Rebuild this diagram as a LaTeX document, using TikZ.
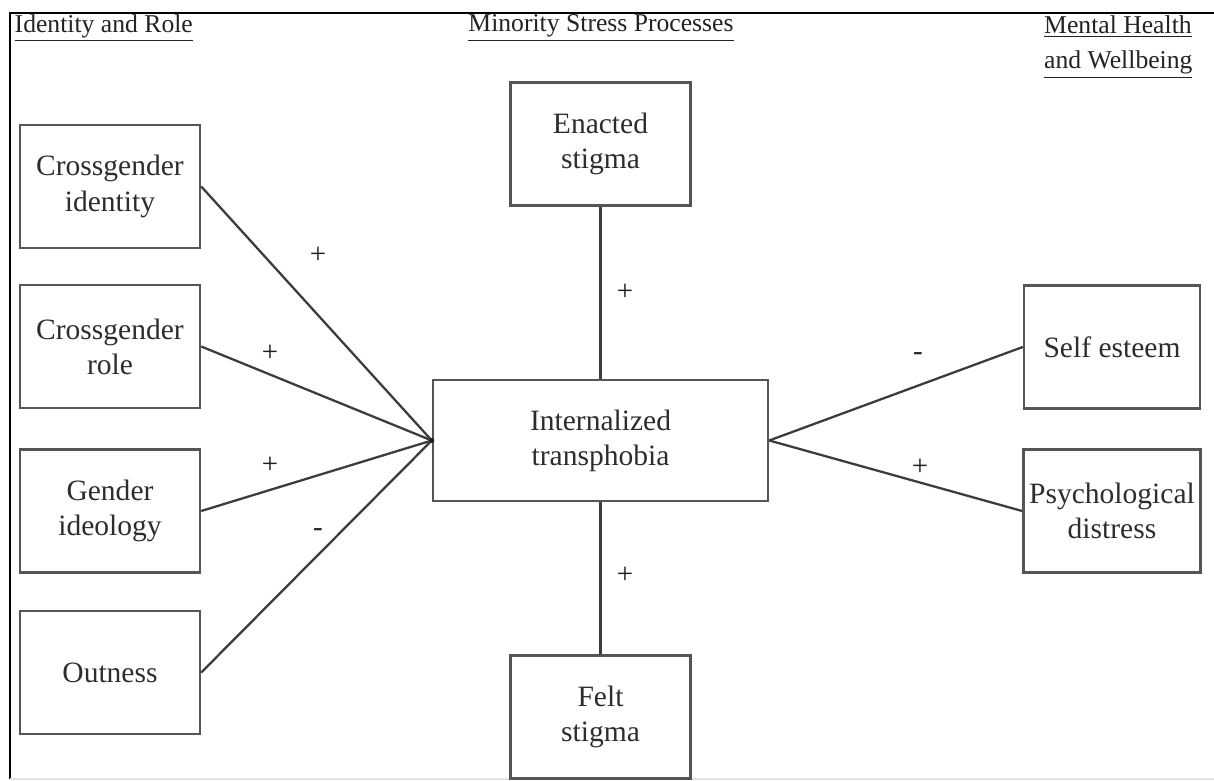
\documentclass[tikz,border=0pt]{standalone}
\usepackage{fontspec}
\setmainfont{Liberation Serif}
\usetikzlibrary{positioning}

\tikzset{
    factor/.style={draw={rgb,255:red,85; green,85; blue,85}, line width=1.4pt, minimum width=3.6cm, minimum height=2.46cm, align=center, text={rgb,255:red,45; green,45; blue,45}, font=\fontsize{16.8}{20}\selectfont},
    path/.style={line width=1.3pt, color={rgb,255:red,60; green,60; blue,60}},
    sign/.style={text={rgb,255:red,30; green,30; blue,30}, font=\fontsize{16.5}{18}\selectfont},
    header/.style={text={rgb,255:red,35; green,35; blue,35}, align=left, font=\fontsize{14.6}{19.9}\selectfont}
}

\begin{document}
\begin{tikzpicture}

        \useasboundingbox (0,0) rectangle (24.28,15.62);

        % Frame
        \draw[line width=1.3pt] (0.2,0.04) -- (0.2,15.36) -- (24.28,15.36);
        \draw[line width=0.6pt, color={rgb,255:red,225; green,225; blue,225}] (0.2,0.04) -- (24.28,0.04);

        % Column headings
        \node[header, anchor=west] (hid) at (0.17,15.06) {\underline{Identity and Role}};
        \node[header] (hms) at (12.02,15.06) {\underline{Minority Stress Processes}};
        \node[header, anchor=north west] (hmh) at (20.76,15.42) {\underline{Mental Health}\\\underline{and Wellbeing}};

        % Identity and role
        \node[factor] (cid) at (2.2,11.89) {Crossgender\\identity};
        \node[factor] (crole) at (2.2,8.69) {Crossgender\\role};
        \node[factor] (gid) at (2.2,5.40) {Gender\\ideology};
        \node[factor] (out) at (2.2,2.17) {Outness};

        % Minority stress
        \node[factor] (enact) at (12.01,12.74) {Enacted\\stigma};
        \node[factor, minimum width=6.7cm, minimum height=2.42cm] (itp) at (12.01,6.81) {Internalized\\transphobia};
        \node[factor] (felt) at (12.01,1.28) {Felt\\stigma};

        % Mental health
        \node[factor, minimum width=3.52cm] (self) at (22.24,8.68) {Self esteem};
        \node[factor, minimum width=3.52cm] (psy) at (22.24,5.40) {Psychological\\distress};

        % Paths
        \draw[path] (cid.east) -- (itp.west);
        \draw[path] (crole.east) -- (itp.west);
        \draw[path] (gid.east) -- (itp.west);
        \draw[path] (out.east) -- (itp.west);
        \fill[color={rgb,255:red,30; green,30; blue,30}] (itp.west) circle (0.05);
        \draw[path] (enact.south) -- (itp.north);
        \draw[path] (felt.north) -- (itp.south);
        \draw[path] (self.west) -- (itp.east);
        \draw[path] (psy.west) -- (itp.east);

        % Signs
        \node[sign] (s1) at (6.36,10.52) {+};
        \node[sign] (s2) at (5.40,8.56) {+};
        \node[sign] (s3) at (5.40,6.32) {+};
        \node[sign] (s4) at (6.36,4.96) {-};
        \node[sign] (s5) at (12.50,9.78) {+};
        \node[sign] (s6) at (12.50,4.12) {+};
        \node[sign] (s7) at (18.36,8.48) {-};
        \node[sign] (s8) at (18.40,6.28) {+};

    \end{tikzpicture}
\end{document}
